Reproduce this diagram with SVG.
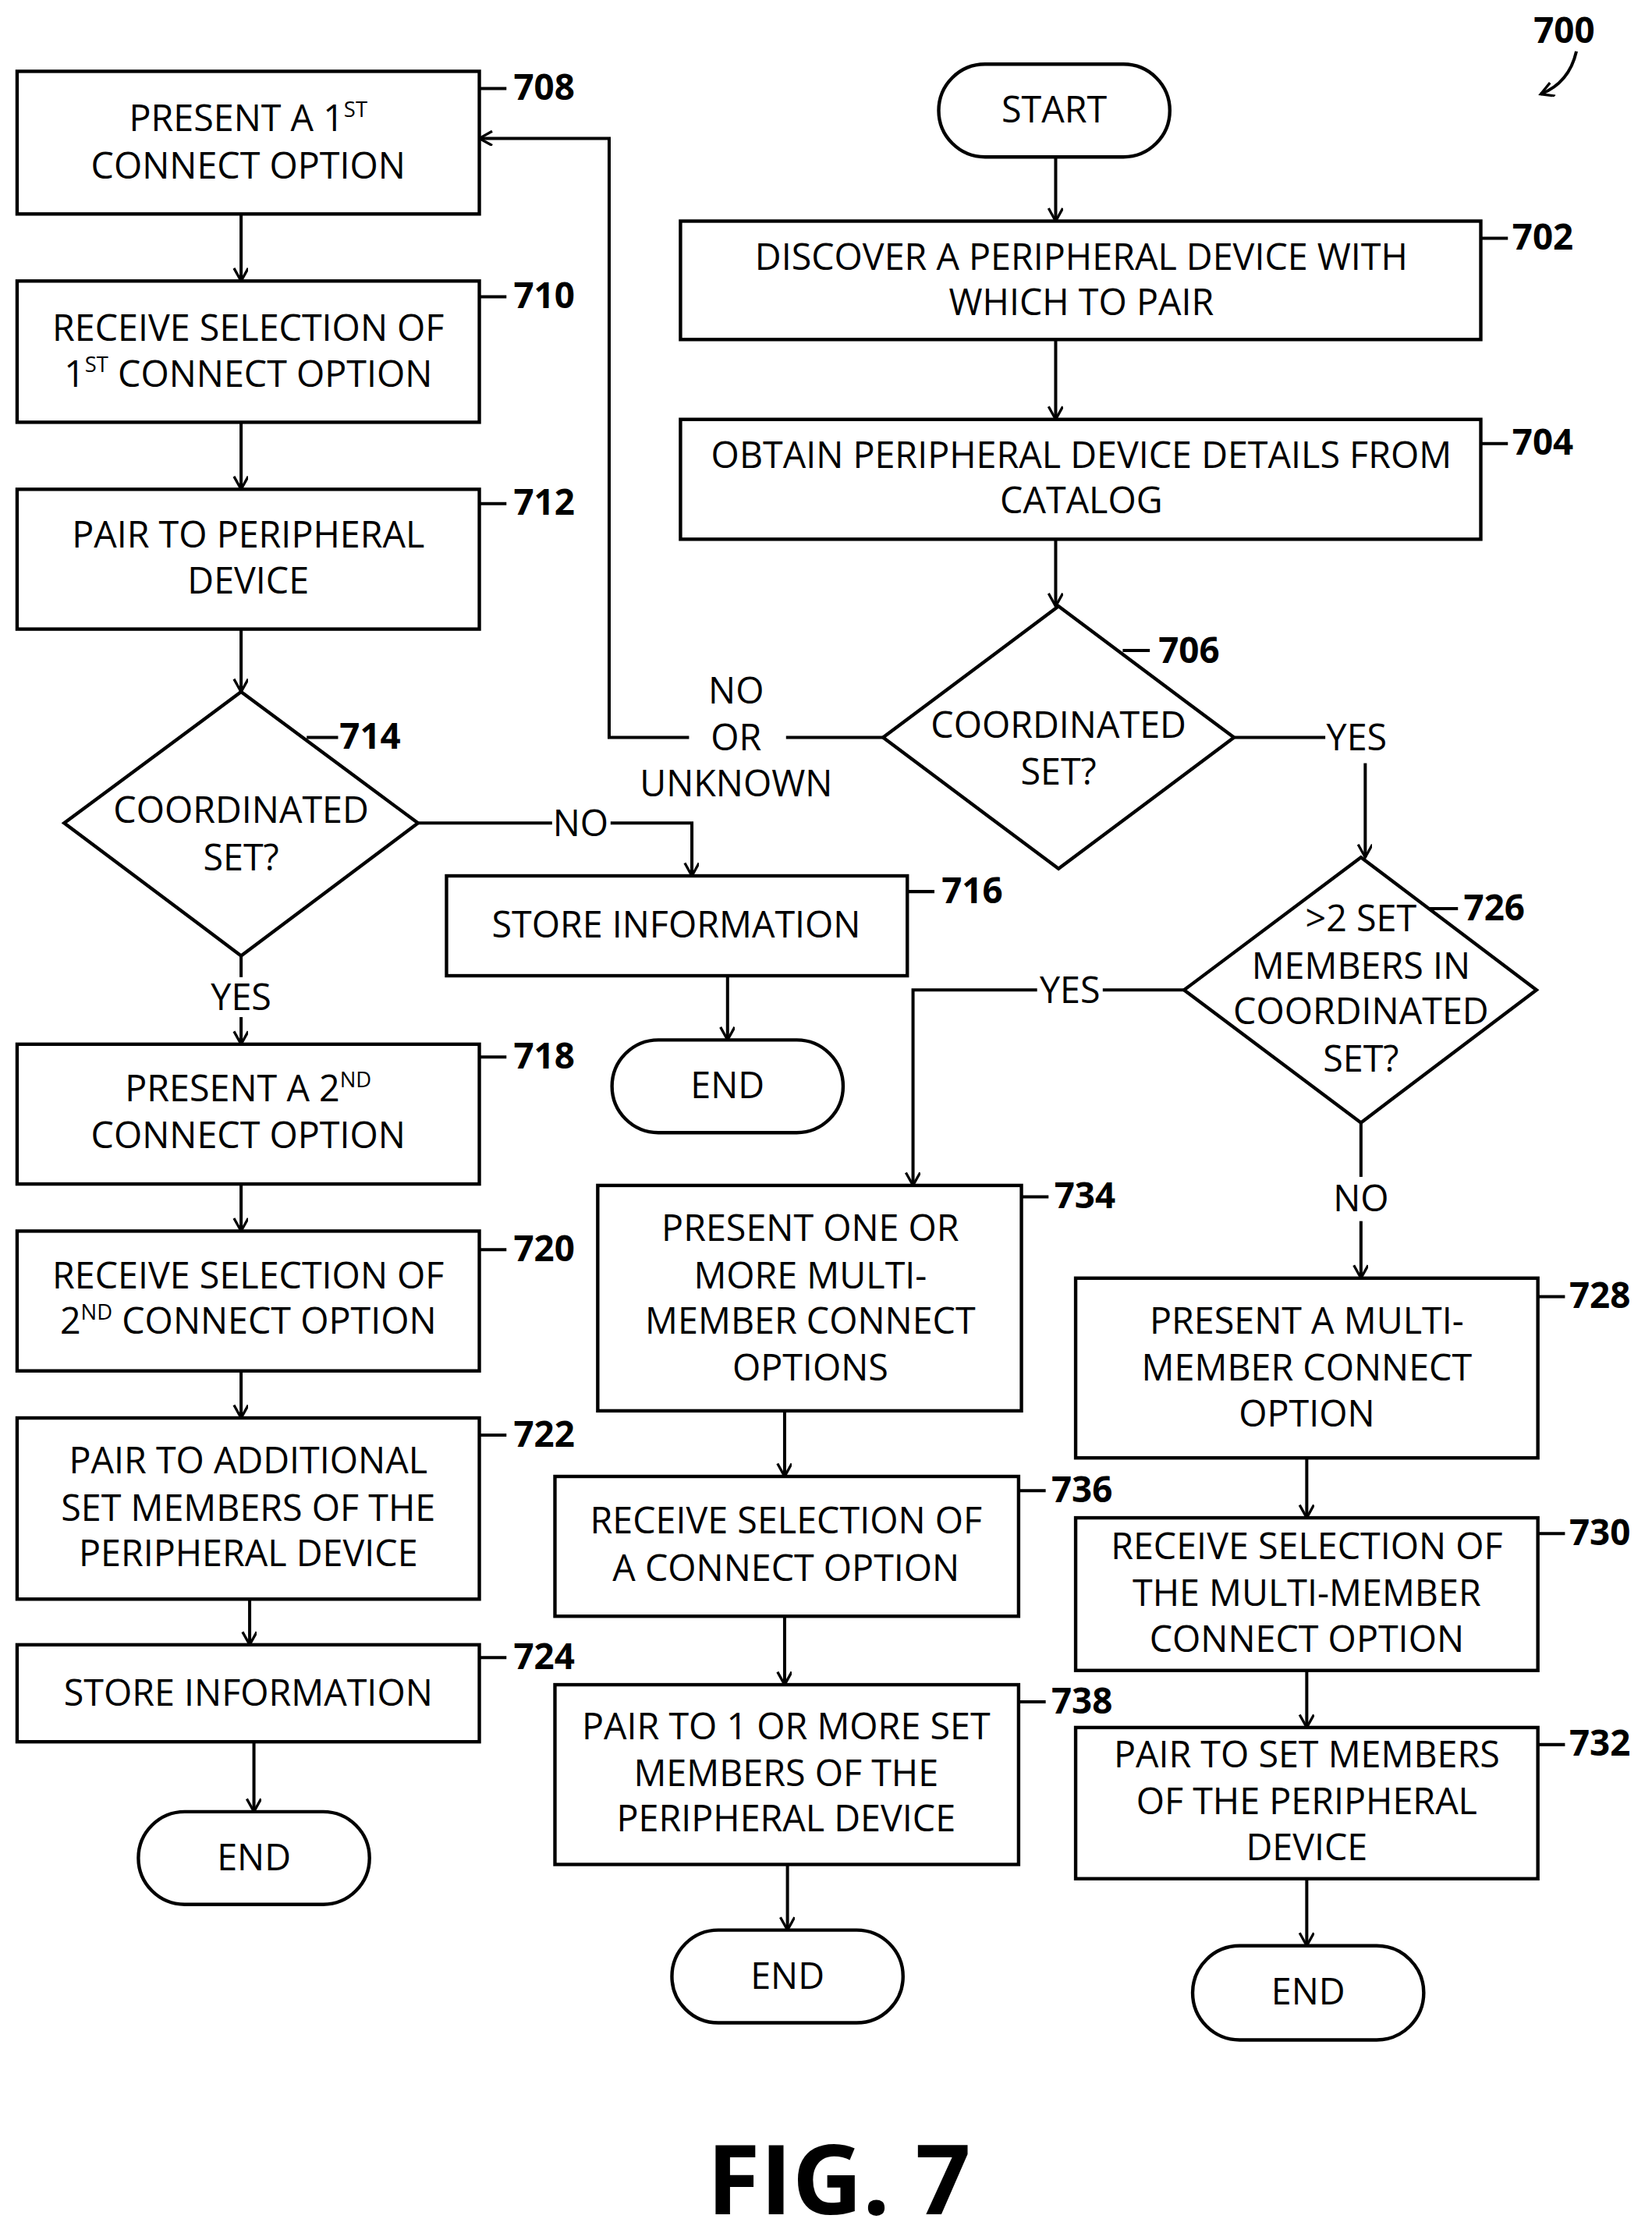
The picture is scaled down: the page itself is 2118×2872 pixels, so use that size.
<svg xmlns="http://www.w3.org/2000/svg" width="2118" height="2872" viewBox="0 0 2118 2872">
<defs>
<marker id="ah" markerWidth="12" markerHeight="12" refX="10" refY="5" orient="auto" markerUnits="userSpaceOnUse"><path d="M1,0 L10,5 L1,10" fill="none" stroke="#000" stroke-width="1.8"/></marker>
<style>
.b{fill:#fff;stroke:#000;stroke-width:2.4}
.t{font-family:"Open Sans","DejaVu Sans",sans-serif;font-size:25.5px;text-anchor:middle;fill:#000}
.n{font-family:"Open Sans","DejaVu Sans",sans-serif;font-size:25px;font-weight:bold;fill:#000}
.c{fill:none;stroke:#000;stroke-width:2.2}
.c2{fill:none;stroke:#000;stroke-width:2.2;marker-end:url(#ah)}
.s{font-size:15px}
</style>
</defs>
<rect width="2118" height="2872" fill="#fff"/>
<g transform="scale(1.829)">
<g id="connectors">
<path class="c2" d="M740,110V155"/><path class="c2" d="M740,238V294"/><path class="c2" d="M740,378V425"/>
<path class="c" d="M619,517H551"/><path class="c2" d="M483,517H427V97H336"/>
<path class="c" d="M865,517H929"/><path class="c2" d="M957,535V601"/>
<path class="c" d="M830,694H773"/><path class="c2" d="M727,694H640V831"/>
<path class="c" d="M954,787V825"/><path class="c2" d="M954,856V896"/>
<path class="c" d="M293,577H387"/><path class="c2" d="M428,577H485V614"/>
<path class="c" d="M169,670V685"/><path class="c2" d="M169,713V732"/>
<path class="c2" d="M169,150V197"/><path class="c2" d="M169,296V343"/><path class="c2" d="M169,441V485"/>
<path class="c2" d="M169,830V863"/><path class="c2" d="M169,961V994"/><path class="c2" d="M175,1121V1153"/><path class="c2" d="M178,1221V1270"/>
<path class="c2" d="M510,684V729"/>
<path class="c2" d="M550,989V1035"/><path class="c2" d="M550,1133V1181"/><path class="c2" d="M552,1307V1353"/>
<path class="c2" d="M916,1022V1064"/><path class="c2" d="M916,1171V1211"/><path class="c2" d="M916,1317V1364"/>
<path class="c" d="M336,62H355M336,208H355M336,353H355M215,517H237M636,625H655M336,741H355M336,876H355M336,1006H355M336,1162H355M1038,167H1057M1038,311H1057M787,456H806M1000,637H1022M716,839H735M1078,909H1097M1078,1075H1097M1078,1223H1097M714,1045H733M714,1193H733"/>
<path class="c2" d="M1105,36Q1100,58 1080,66"/>
</g>
<g id="labels">
<text class="t" x="516" y="493">NO</text><text class="t" x="516" y="526">OR</text><text class="t" x="516" y="558">UNKNOWN</text>
<text class="t" x="951" y="526">YES</text><text class="t" x="750" y="703">YES</text><text class="t" x="954" y="849">NO</text>
<text class="t" x="407" y="586">NO</text><text class="t" x="169" y="708">YES</text>
</g>
<g id="n700"><text class="n" x="1075" y="30">700</text></g>
<g id="start"><rect class="b" x="658" y="45" width="162" height="65" rx="32.5"/><text class="t" x="739" y="86">START</text></g>
<g id="n702"><rect class="b" x="477" y="155" width="561" height="83"/><text class="t" x="758" y="189">DISCOVER A PERIPHERAL DEVICE WITH</text><text class="t" x="758" y="221">WHICH TO PAIR</text><text class="n" x="1060" y="175">702</text></g>
<g id="n704"><rect class="b" x="477" y="294" width="561" height="84"/><text class="t" x="758" y="328">OBTAIN PERIPHERAL DEVICE DETAILS FROM</text><text class="t" x="758" y="360">CATALOG</text><text class="n" x="1060" y="319">704</text></g>
<g id="n706"><polygon class="b" points="742,425 865,517 742,609 619,517"/><text class="t" x="742" y="517">COORDINATED</text><text class="t" x="742" y="550">SET?</text><text class="n" x="812" y="465">706</text></g>
<g id="n708"><rect class="b" x="12" y="50" width="324" height="100"/><text class="t" x="174" y="92">PRESENT A 1<tspan class="s" dy="-10">ST</tspan></text><text class="t" x="174" y="125">CONNECT OPTION</text><text class="n" x="360" y="70">708</text></g>
<g id="n710"><rect class="b" x="12" y="197" width="324" height="99"/><text class="t" x="174" y="239">RECEIVE SELECTION OF</text><text class="t" x="174" y="271">1<tspan class="s" dy="-10">ST</tspan><tspan dy="10"> CONNECT OPTION</tspan></text><text class="n" x="360" y="216">710</text></g>
<g id="n712"><rect class="b" x="12" y="343" width="324" height="98"/><text class="t" x="174" y="384">PAIR TO PERIPHERAL</text><text class="t" x="174" y="416">DEVICE</text><text class="n" x="360" y="361">712</text></g>
<g id="n714"><polygon class="b" points="169,485 293,577 169,670 45,577"/><text class="t" x="169" y="577">COORDINATED</text><text class="t" x="169" y="610">SET?</text><text class="n" x="238" y="525">714</text></g>
<g id="n716"><rect class="b" x="313" y="614" width="323" height="70"/><text class="t" x="474" y="657">STORE INFORMATION</text><text class="n" x="660" y="633">716</text></g>
<g id="end1"><rect class="b" x="429" y="729" width="162" height="65" rx="32.5"/><text class="t" x="510" y="770">END</text></g>
<g id="n718"><rect class="b" x="12" y="732" width="324" height="98"/><text class="t" x="174" y="772">PRESENT A 2<tspan class="s" dy="-10">ND</tspan></text><text class="t" x="174" y="805">CONNECT OPTION</text><text class="n" x="360" y="749">718</text></g>
<g id="n720"><rect class="b" x="12" y="863" width="324" height="98"/><text class="t" x="174" y="903">RECEIVE SELECTION OF</text><text class="t" x="174" y="935">2<tspan class="s" dy="-10">ND</tspan><tspan dy="10"> CONNECT OPTION</tspan></text><text class="n" x="360" y="884">720</text></g>
<g id="n722"><rect class="b" x="12" y="994" width="324" height="127"/><text class="t" x="174" y="1033">PAIR TO ADDITIONAL</text><text class="t" x="174" y="1066">SET MEMBERS OF THE</text><text class="t" x="174" y="1098">PERIPHERAL DEVICE</text><text class="n" x="360" y="1014">722</text></g>
<g id="n724"><rect class="b" x="12" y="1153" width="324" height="68"/><text class="t" x="174" y="1196">STORE INFORMATION</text><text class="n" x="360" y="1170">724</text></g>
<g id="end2"><rect class="b" x="97" y="1270" width="162" height="65" rx="32.5"/><text class="t" x="178" y="1311">END</text></g>
<g id="n726"><polygon class="b" points="954,601 1077,694 954,787 830,694"/><text class="t" x="954" y="653">&gt;2 SET</text><text class="t" x="954" y="686">MEMBERS IN</text><text class="t" x="954" y="718">COORDINATED</text><text class="t" x="954" y="751">SET?</text><text class="n" x="1026" y="645">726</text></g>
<g id="n734"><rect class="b" x="419" y="831" width="297" height="158"/><text class="t" x="568" y="870">PRESENT ONE OR</text><text class="t" x="568" y="903">MORE MULTI-</text><text class="t" x="568" y="935">MEMBER CONNECT</text><text class="t" x="568" y="968">OPTIONS</text><text class="n" x="739" y="847">734</text></g>
<g id="n736"><rect class="b" x="389" y="1035" width="325" height="98"/><text class="t" x="551" y="1075">RECEIVE SELECTION OF</text><text class="t" x="551" y="1108">A CONNECT OPTION</text><text class="n" x="737" y="1053">736</text></g>
<g id="n738"><rect class="b" x="389" y="1181" width="325" height="126"/><text class="t" x="551" y="1219">PAIR TO 1 OR MORE SET</text><text class="t" x="551" y="1252">MEMBERS OF THE</text><text class="t" x="551" y="1284">PERIPHERAL DEVICE</text><text class="n" x="737" y="1201">738</text></g>
<g id="end3"><rect class="b" x="471" y="1353" width="162" height="65" rx="32.5"/><text class="t" x="552" y="1394">END</text></g>
<g id="n728"><rect class="b" x="754" y="896" width="324" height="126"/><text class="t" x="916" y="935">PRESENT A MULTI-</text><text class="t" x="916" y="968">MEMBER CONNECT</text><text class="t" x="916" y="1000">OPTION</text><text class="n" x="1100" y="917">728</text></g>
<g id="n730"><rect class="b" x="754" y="1064" width="324" height="107"/><text class="t" x="916" y="1093">RECEIVE SELECTION OF</text><text class="t" x="916" y="1126">THE MULTI-MEMBER</text><text class="t" x="916" y="1158">CONNECT OPTION</text><text class="n" x="1100" y="1083">730</text></g>
<g id="n732"><rect class="b" x="754" y="1211" width="324" height="106"/><text class="t" x="916" y="1239">PAIR TO SET MEMBERS</text><text class="t" x="916" y="1272">OF THE PERIPHERAL</text><text class="t" x="916" y="1304">DEVICE</text><text class="n" x="1100" y="1231">732</text></g>
<g id="end4"><rect class="b" x="836" y="1364" width="162" height="66" rx="33"/><text class="t" x="917" y="1405">END</text></g>
<text x="588" y="1552" style="font-family:'Open Sans','DejaVu Sans',sans-serif;font-size:68px;font-weight:bold;text-anchor:middle">FIG. 7</text>
</g>
</svg>
